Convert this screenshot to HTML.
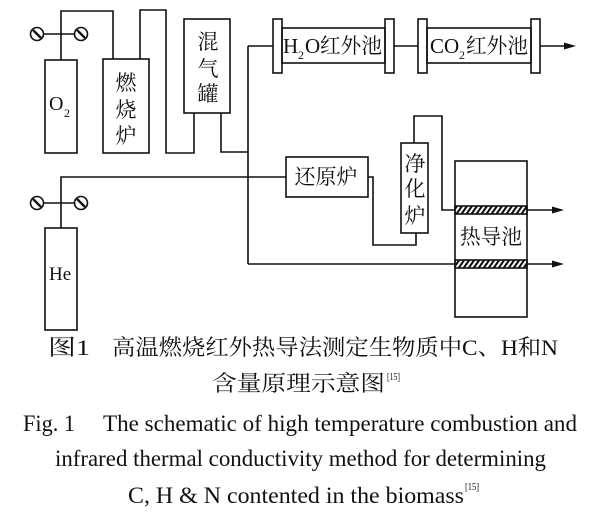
<!DOCTYPE html>
<html><head><meta charset="utf-8"><style>
html,body{margin:0;padding:0;background:#fff;}
svg{display:block;}
.cj{font-family:"Liberation Serif","Noto Serif CJK SC",serif;}
.en{font-family:"Liberation Serif",serif;}
</style></head><body>
<svg width="600" height="517" viewBox="0 0 600 517" xmlns="http://www.w3.org/2000/svg">
<defs>
<pattern id="h" patternUnits="userSpaceOnUse" width="5" height="8" patternTransform="skewX(-35)">
<rect x="0" y="0" width="2.6" height="8" fill="#111"/>
</pattern>
</defs>
<g fill="none" stroke="#111" stroke-width="1.6">
<!-- O2 -->
<rect x="45" y="60" width="32" height="93"/>
<line x1="43.5" y1="34" x2="74.5" y2="34"/>
<circle cx="37" cy="34" r="6.5"/>
<circle cx="81" cy="34" r="6.5"/>
<polyline points="61,60 61,11 113,11 113,59"/>
<!-- 燃烧炉 -->
<rect x="103" y="59" width="46" height="94"/>
<polyline points="140,59 140,10 166,10 166,153 194,153 194,113"/>
<!-- 混气罐 -->
<rect x="184" y="19" width="46" height="94"/>
<polyline points="221,113 221,152 248,152"/>
<line x1="248" y1="46" x2="248" y2="264"/>
<line x1="248" y1="46" x2="273" y2="46"/>
<!-- H2O cell -->
<rect x="273" y="19" width="9" height="54"/>
<rect x="282" y="28" width="103" height="35"/>
<rect x="385" y="19" width="9" height="54"/>
<line x1="394" y1="46" x2="418" y2="46"/>
<!-- CO2 cell -->
<rect x="418" y="19" width="9" height="54"/>
<rect x="427" y="28" width="104" height="35"/>
<rect x="531" y="19" width="9" height="54"/>
<line x1="540" y1="46" x2="568" y2="46"/>
<!-- He -->
<rect x="45" y="228" width="32" height="102"/>
<line x1="43.5" y1="203" x2="74.5" y2="203"/>
<circle cx="37" cy="203" r="6.5"/>
<circle cx="81" cy="203" r="6.5"/>
<polyline points="61,228 61,177 286,177"/>
<!-- 还原炉 -->
<rect x="286" y="157" width="82" height="40"/>
<polyline points="368,177 373,177 373,245 416,245 416,233"/>
<!-- 净化炉 -->
<rect x="401" y="143" width="27" height="90"/>
<polyline points="414,143 414,116 442,116 442,210 455,210"/>
<!-- 热导池 -->
<rect x="455" y="161" width="72" height="156"/>
<line x1="248" y1="264" x2="455" y2="264"/>
<line x1="527" y1="210" x2="556" y2="210"/>
<line x1="527" y1="264" x2="556" y2="264"/>
</g>
<!-- valve slashes -->
<g stroke="#111" stroke-width="2.4">
<line x1="33" y1="30" x2="41" y2="38"/>
<line x1="77" y1="30" x2="85" y2="38"/>
<line x1="33" y1="199" x2="41" y2="207"/>
<line x1="77" y1="199" x2="85" y2="207"/>
</g>
<!-- hatched bands -->
<rect x="455" y="206" width="72" height="8" fill="url(#h)" stroke="#111" stroke-width="1.6"/>
<rect x="455" y="260" width="72" height="8" fill="url(#h)" stroke="#111" stroke-width="1.6"/>
<!-- arrowheads -->
<g fill="#111">
<polygon points="576,46 564,42.5 564,49.5"/>
<polygon points="564,210 552,206.5 552,213.5"/>
<polygon points="564,264 552,260.5 552,267.5"/>
</g>
<!-- diagram labels -->
<g fill="#111" class="cj">
<text x="49" y="110" font-size="20">O</text>
<text x="64" y="117" font-size="12">2</text>
<text x="49" y="280" font-size="19">He</text>
<g font-size="21" text-anchor="middle" dominant-baseline="central">
<text x="126" y="83">燃</text>
<text x="126" y="110">烧</text>
<text x="126" y="136">炉</text>
<text x="208" y="42">混</text>
<text x="208" y="69">气</text>
<text x="208" y="94">罐</text>
<text x="415" y="164">净</text>
<text x="415" y="189">化</text>
<text x="415" y="216">炉</text>
<text x="326" y="177" textLength="63" lengthAdjust="spacingAndGlyphs">还原炉</text>
<text x="491" y="237" textLength="62" lengthAdjust="spacingAndGlyphs">热导池</text>
</g>
<text x="283" y="53" font-size="21">H</text>
<text x="298" y="59" font-size="12">2</text>
<text x="305" y="53" font-size="21">O</text>
<text x="320" y="53" font-size="21" textLength="62" lengthAdjust="spacingAndGlyphs">红外池</text>
<text x="430" y="53" font-size="21">C</text>
<text x="444" y="53" font-size="21">O</text>
<text x="459" y="59" font-size="12">2</text>
<text x="466" y="53" font-size="21" textLength="62" lengthAdjust="spacingAndGlyphs">红外池</text>
</g>
<!-- captions -->
<g fill="#111" class="cj">
<text x="48" y="355" font-size="22" textLength="42" lengthAdjust="spacingAndGlyphs">图1</text>
<text x="112" y="355" font-size="22" textLength="446" lengthAdjust="spacingAndGlyphs">高温燃烧红外热导法测定生物质中C、H和N</text>
<text x="212" y="391" font-size="22" textLength="173" lengthAdjust="spacingAndGlyphs">含量原理示意图</text>
<text x="387" y="380" font-size="11" textLength="13" lengthAdjust="spacingAndGlyphs">[15]</text>
</g>
<g fill="#111" class="en" font-size="23">
<text x="23" y="431" textLength="52" lengthAdjust="spacingAndGlyphs">Fig. 1</text>
<text x="103" y="431" textLength="474" lengthAdjust="spacingAndGlyphs">The schematic of high temperature combustion and</text>
<text x="55" y="466" textLength="491" lengthAdjust="spacingAndGlyphs">infrared thermal conductivity method for determining</text>
<text x="128" y="503" textLength="336" lengthAdjust="spacingAndGlyphs">C, H &amp; N contented in the biomass</text>
<text x="465" y="490" font-size="11" textLength="14" lengthAdjust="spacingAndGlyphs">[15]</text>
</g>
</svg>
</body></html>
